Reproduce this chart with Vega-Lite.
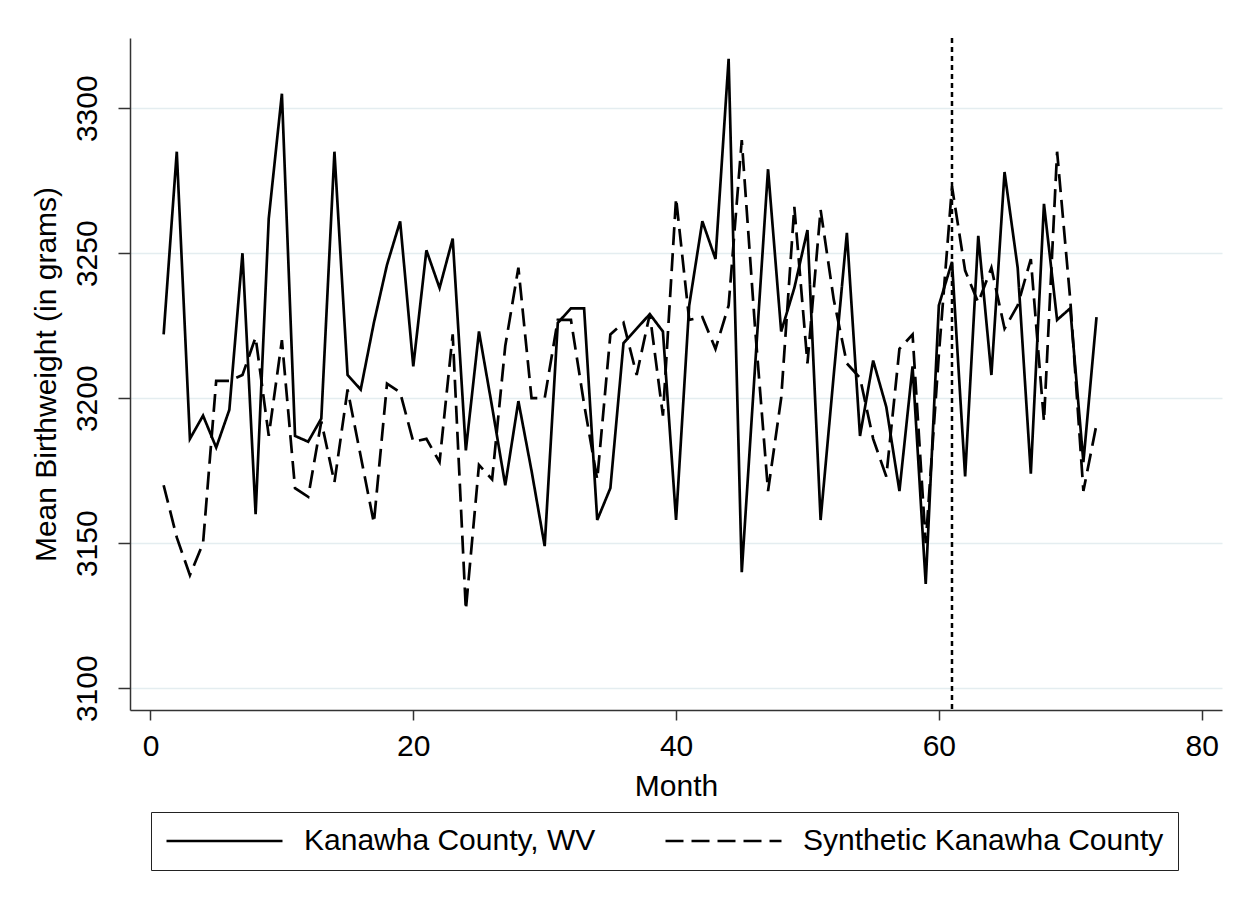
{
  "$schema": "https://vega.github.io/schema/vega-lite/v6.json",
  "width": 1092,
  "height": 672,
  "autosize": {"type": "none"},
  "padding": {"left": 130, "top": 38, "right": 37, "bottom": 199},
  "background": "white",
  "config": {
    "view": {"stroke": null},
    "font": "Liberation Sans",
    "axis": {
      "labelFont": "Liberation Sans",
      "titleFont": "Liberation Sans",
      "labelFontSize": 30,
      "titleFontSize": 30,
      "titleFontWeight": "normal",
      "labelColor": "black",
      "titleColor": "black",
      "domainColor": "#333333",
      "domainWidth": 1.5,
      "tickColor": "#333333",
      "tickWidth": 1.5
    }
  },
  "datasets": {
    "bw": [
      {"month": 1, "series": "Kanawha County, WV", "weight": 3222},
      {"month": 2, "series": "Kanawha County, WV", "weight": 3285},
      {"month": 3, "series": "Kanawha County, WV", "weight": 3186},
      {"month": 4, "series": "Kanawha County, WV", "weight": 3194},
      {"month": 5, "series": "Kanawha County, WV", "weight": 3183},
      {"month": 6, "series": "Kanawha County, WV", "weight": 3196},
      {"month": 7, "series": "Kanawha County, WV", "weight": 3250},
      {"month": 8, "series": "Kanawha County, WV", "weight": 3160},
      {"month": 9, "series": "Kanawha County, WV", "weight": 3262},
      {"month": 10, "series": "Kanawha County, WV", "weight": 3305},
      {"month": 11, "series": "Kanawha County, WV", "weight": 3187},
      {"month": 12, "series": "Kanawha County, WV", "weight": 3185},
      {"month": 13, "series": "Kanawha County, WV", "weight": 3193},
      {"month": 14, "series": "Kanawha County, WV", "weight": 3285},
      {"month": 15, "series": "Kanawha County, WV", "weight": 3208},
      {"month": 16, "series": "Kanawha County, WV", "weight": 3203},
      {"month": 17, "series": "Kanawha County, WV", "weight": 3226},
      {"month": 18, "series": "Kanawha County, WV", "weight": 3246},
      {"month": 19, "series": "Kanawha County, WV", "weight": 3261},
      {"month": 20, "series": "Kanawha County, WV", "weight": 3211},
      {"month": 21, "series": "Kanawha County, WV", "weight": 3251},
      {"month": 22, "series": "Kanawha County, WV", "weight": 3238},
      {"month": 23, "series": "Kanawha County, WV", "weight": 3255},
      {"month": 24, "series": "Kanawha County, WV", "weight": 3182},
      {"month": 25, "series": "Kanawha County, WV", "weight": 3223},
      {"month": 26, "series": "Kanawha County, WV", "weight": 3197},
      {"month": 27, "series": "Kanawha County, WV", "weight": 3170},
      {"month": 28, "series": "Kanawha County, WV", "weight": 3199},
      {"month": 29, "series": "Kanawha County, WV", "weight": 3175},
      {"month": 30, "series": "Kanawha County, WV", "weight": 3149},
      {"month": 31, "series": "Kanawha County, WV", "weight": 3226},
      {"month": 32, "series": "Kanawha County, WV", "weight": 3231},
      {"month": 33, "series": "Kanawha County, WV", "weight": 3231},
      {"month": 34, "series": "Kanawha County, WV", "weight": 3158},
      {"month": 35, "series": "Kanawha County, WV", "weight": 3169},
      {"month": 36, "series": "Kanawha County, WV", "weight": 3219},
      {"month": 37, "series": "Kanawha County, WV", "weight": 3224},
      {"month": 38, "series": "Kanawha County, WV", "weight": 3229},
      {"month": 39, "series": "Kanawha County, WV", "weight": 3223},
      {"month": 40, "series": "Kanawha County, WV", "weight": 3158},
      {"month": 41, "series": "Kanawha County, WV", "weight": 3232},
      {"month": 42, "series": "Kanawha County, WV", "weight": 3261},
      {"month": 43, "series": "Kanawha County, WV", "weight": 3248},
      {"month": 44, "series": "Kanawha County, WV", "weight": 3317},
      {"month": 45, "series": "Kanawha County, WV", "weight": 3140},
      {"month": 46, "series": "Kanawha County, WV", "weight": 3210},
      {"month": 47, "series": "Kanawha County, WV", "weight": 3279},
      {"month": 48, "series": "Kanawha County, WV", "weight": 3223},
      {"month": 49, "series": "Kanawha County, WV", "weight": 3238},
      {"month": 50, "series": "Kanawha County, WV", "weight": 3258},
      {"month": 51, "series": "Kanawha County, WV", "weight": 3158},
      {"month": 52, "series": "Kanawha County, WV", "weight": 3208},
      {"month": 53, "series": "Kanawha County, WV", "weight": 3257},
      {"month": 54, "series": "Kanawha County, WV", "weight": 3187},
      {"month": 55, "series": "Kanawha County, WV", "weight": 3213},
      {"month": 56, "series": "Kanawha County, WV", "weight": 3197},
      {"month": 57, "series": "Kanawha County, WV", "weight": 3168},
      {"month": 58, "series": "Kanawha County, WV", "weight": 3211},
      {"month": 59, "series": "Kanawha County, WV", "weight": 3136},
      {"month": 60, "series": "Kanawha County, WV", "weight": 3232},
      {"month": 61, "series": "Kanawha County, WV", "weight": 3247},
      {"month": 62, "series": "Kanawha County, WV", "weight": 3173},
      {"month": 63, "series": "Kanawha County, WV", "weight": 3256},
      {"month": 64, "series": "Kanawha County, WV", "weight": 3208},
      {"month": 65, "series": "Kanawha County, WV", "weight": 3278},
      {"month": 66, "series": "Kanawha County, WV", "weight": 3245},
      {"month": 67, "series": "Kanawha County, WV", "weight": 3174},
      {"month": 68, "series": "Kanawha County, WV", "weight": 3267},
      {"month": 69, "series": "Kanawha County, WV", "weight": 3227},
      {"month": 70, "series": "Kanawha County, WV", "weight": 3231},
      {"month": 71, "series": "Kanawha County, WV", "weight": 3178},
      {"month": 72, "series": "Kanawha County, WV", "weight": 3228},
      {"month": 1, "series": "Synthetic Kanawha County", "weight": 3170},
      {"month": 2, "series": "Synthetic Kanawha County", "weight": 3152},
      {"month": 3, "series": "Synthetic Kanawha County", "weight": 3139},
      {"month": 4, "series": "Synthetic Kanawha County", "weight": 3150},
      {"month": 5, "series": "Synthetic Kanawha County", "weight": 3206},
      {"month": 6, "series": "Synthetic Kanawha County", "weight": 3206},
      {"month": 7, "series": "Synthetic Kanawha County", "weight": 3208},
      {"month": 8, "series": "Synthetic Kanawha County", "weight": 3221},
      {"month": 9, "series": "Synthetic Kanawha County", "weight": 3187},
      {"month": 10, "series": "Synthetic Kanawha County", "weight": 3220},
      {"month": 11, "series": "Synthetic Kanawha County", "weight": 3169},
      {"month": 12, "series": "Synthetic Kanawha County", "weight": 3166},
      {"month": 13, "series": "Synthetic Kanawha County", "weight": 3192},
      {"month": 14, "series": "Synthetic Kanawha County", "weight": 3171},
      {"month": 15, "series": "Synthetic Kanawha County", "weight": 3203},
      {"month": 16, "series": "Synthetic Kanawha County", "weight": 3180},
      {"month": 17, "series": "Synthetic Kanawha County", "weight": 3157},
      {"month": 18, "series": "Synthetic Kanawha County", "weight": 3205},
      {"month": 19, "series": "Synthetic Kanawha County", "weight": 3202},
      {"month": 20, "series": "Synthetic Kanawha County", "weight": 3185},
      {"month": 21, "series": "Synthetic Kanawha County", "weight": 3186},
      {"month": 22, "series": "Synthetic Kanawha County", "weight": 3178},
      {"month": 23, "series": "Synthetic Kanawha County", "weight": 3222},
      {"month": 24, "series": "Synthetic Kanawha County", "weight": 3127},
      {"month": 25, "series": "Synthetic Kanawha County", "weight": 3177},
      {"month": 26, "series": "Synthetic Kanawha County", "weight": 3172},
      {"month": 27, "series": "Synthetic Kanawha County", "weight": 3218},
      {"month": 28, "series": "Synthetic Kanawha County", "weight": 3245},
      {"month": 29, "series": "Synthetic Kanawha County", "weight": 3200},
      {"month": 30, "series": "Synthetic Kanawha County", "weight": 3200},
      {"month": 31, "series": "Synthetic Kanawha County", "weight": 3227},
      {"month": 32, "series": "Synthetic Kanawha County", "weight": 3227},
      {"month": 33, "series": "Synthetic Kanawha County", "weight": 3198},
      {"month": 34, "series": "Synthetic Kanawha County", "weight": 3172},
      {"month": 35, "series": "Synthetic Kanawha County", "weight": 3222},
      {"month": 36, "series": "Synthetic Kanawha County", "weight": 3226},
      {"month": 37, "series": "Synthetic Kanawha County", "weight": 3208},
      {"month": 38, "series": "Synthetic Kanawha County", "weight": 3229},
      {"month": 39, "series": "Synthetic Kanawha County", "weight": 3194},
      {"month": 40, "series": "Synthetic Kanawha County", "weight": 3269},
      {"month": 41, "series": "Synthetic Kanawha County", "weight": 3227},
      {"month": 42, "series": "Synthetic Kanawha County", "weight": 3228},
      {"month": 43, "series": "Synthetic Kanawha County", "weight": 3217},
      {"month": 44, "series": "Synthetic Kanawha County", "weight": 3232},
      {"month": 45, "series": "Synthetic Kanawha County", "weight": 3289},
      {"month": 46, "series": "Synthetic Kanawha County", "weight": 3225},
      {"month": 47, "series": "Synthetic Kanawha County", "weight": 3168},
      {"month": 48, "series": "Synthetic Kanawha County", "weight": 3200},
      {"month": 49, "series": "Synthetic Kanawha County", "weight": 3266},
      {"month": 50, "series": "Synthetic Kanawha County", "weight": 3212},
      {"month": 51, "series": "Synthetic Kanawha County", "weight": 3265},
      {"month": 52, "series": "Synthetic Kanawha County", "weight": 3234},
      {"month": 53, "series": "Synthetic Kanawha County", "weight": 3212},
      {"month": 54, "series": "Synthetic Kanawha County", "weight": 3207},
      {"month": 55, "series": "Synthetic Kanawha County", "weight": 3186},
      {"month": 56, "series": "Synthetic Kanawha County", "weight": 3173},
      {"month": 57, "series": "Synthetic Kanawha County", "weight": 3217},
      {"month": 58, "series": "Synthetic Kanawha County", "weight": 3222},
      {"month": 59, "series": "Synthetic Kanawha County", "weight": 3150},
      {"month": 60, "series": "Synthetic Kanawha County", "weight": 3215},
      {"month": 61, "series": "Synthetic Kanawha County", "weight": 3273},
      {"month": 62, "series": "Synthetic Kanawha County", "weight": 3244},
      {"month": 63, "series": "Synthetic Kanawha County", "weight": 3233},
      {"month": 64, "series": "Synthetic Kanawha County", "weight": 3245},
      {"month": 65, "series": "Synthetic Kanawha County", "weight": 3224},
      {"month": 66, "series": "Synthetic Kanawha County", "weight": 3232},
      {"month": 67, "series": "Synthetic Kanawha County", "weight": 3248},
      {"month": 68, "series": "Synthetic Kanawha County", "weight": 3192},
      {"month": 69, "series": "Synthetic Kanawha County", "weight": 3285},
      {"month": 70, "series": "Synthetic Kanawha County", "weight": 3234},
      {"month": 71, "series": "Synthetic Kanawha County", "weight": 3168},
      {"month": 72, "series": "Synthetic Kanawha County", "weight": 3191}
    ],
    "intervention": [{"month": 61}]
  },
  "layer": [
    {
      "data": {"name": "bw"},
      "mark": {"type": "line", "color": "black", "strokeWidth": 2.7},
      "encoding": {
        "x": {
          "field": "month",
          "type": "quantitative",
          "scale": {"domain": [-1.56, 81.55], "nice": false, "zero": false},
          "axis": {
            "values": [0, 20, 40, 60, 80],
            "title": "Month",
            "grid": false,
            "tickSize": 10,
            "labelPadding": 11,
            "titlePadding": 10
          }
        },
        "y": {
          "field": "weight",
          "type": "quantitative",
          "scale": {"domain": [3092.5, 3324.2], "nice": false, "zero": false},
          "axis": {
            "values": [3100, 3150, 3200, 3250, 3300],
            "format": "d",
            "title": "Mean Birthweight (in grams)",
            "grid": true,
            "gridColor": "#e4edf0",
            "gridWidth": 1.5,
            "tickSize": 12,
            "labelAngle": -90,
            "labelAlign": "center",
            "labelBaseline": "alphabetic",
            "labelPadding": 22,
            "titlePadding": 11
          }
        },
        "strokeDash": {
          "field": "series",
          "type": "nominal",
          "scale": {
            "domain": ["Kanawha County, WV", "Synthetic Kanawha County"],
            "range": [[1, 0], [18, 8]]
          },
          "legend": {
            "title": null,
            "orient": "none",
            "legendX": 21,
            "legendY": 774,
            "direction": "horizontal",
            "symbolType": "stroke",
            "symbolSize": 13456,
            "symbolStrokeWidth": 2.7,
            "symbolStrokeColor": "black",
            "clipHeight": 30,
            "labelFont": "Liberation Sans",
            "labelFontSize": 30,
            "labelColor": "black",
            "labelOffset": 20,
            "labelLimit": 700,
            "columnPadding": 68,
            "padding": 14,
            "strokeColor": "#222222",
            "fillColor": "white"
          }
        }
      }
    },
    {
      "data": {"name": "intervention"},
      "mark": {"type": "rule", "color": "black", "strokeWidth": 2.5, "strokeDash": [5, 4]},
      "encoding": {
        "x": {"field": "month", "type": "quantitative"}
      }
    }
  ]
}
